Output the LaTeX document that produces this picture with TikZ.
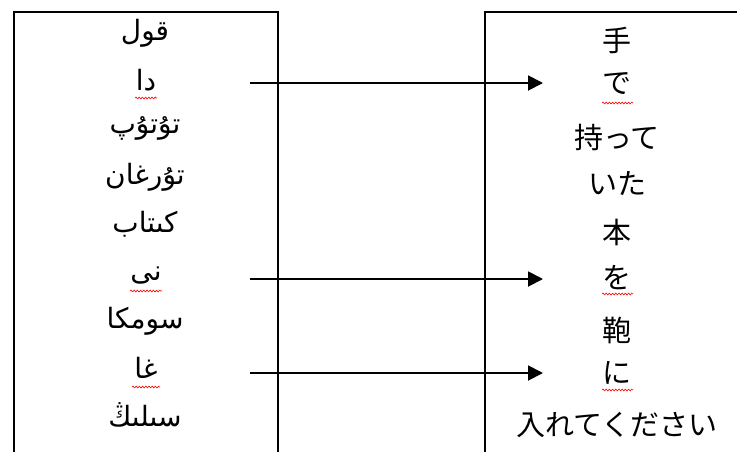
\documentclass[tikz,border=0pt]{standalone}
\usepackage{fontspec}
\usetikzlibrary{arrows.meta,decorations.pathmorphing}
\TeXXeTstate=1
\newfontfamily\arabicfont[Script=Arabic]{DejaVu Sans}
\newfontfamily\jpfont{Noto Sans CJK JP}
\begin{document}
\begin{tikzpicture}[x=1pt,y=-1pt,
  frame/.style={line width=2pt,line cap=rect},
  ug/.style={inner sep=0pt,font=\arabicfont\fontsize{28}{32}\selectfont},
  jp/.style={inner sep=0pt,font=\jpfont\fontsize{29}{32}\selectfont},
  link/.style={line width=1.9pt,-{Triangle[length=15pt,width=15pt]}},
  squig/.style={red,line width=0.6pt,decorate,decoration={snake,segment length=3.2pt,amplitude=0.9pt}}]
\useasboundingbox (0,0) rectangle (737,451);
% boxes
\draw[frame] (14,452) -- (14,12) -- (278,12) -- (278,452);
\draw[frame] (485,452) -- (485,12) -- (738,12);
% Uyghur column
\node[ug] (u1) at (145,33) {\beginR قول\endR};
\node[ug] (u2) at (146,80) {\beginR دا\endR};
\node[ug] (u3) at (145,128) {\beginR تۇتۇپ\endR};
\node[ug] (u4) at (145,177) {\beginR تۇرغان\endR};
\node[ug] (u5) at (145,224) {\beginR كىتاب\endR};
\node[ug] (u6) at (146,276) {\beginR نى\endR};
\node[ug] (u7) at (145,321) {\beginR سومكا\endR};
\node[ug] (u8) at (146,368) {\beginR غا\endR};
\node[ug] (u9) at (145,415) {\beginR سىلىڭ\endR};
% Japanese column
\node[jp] (j1) at (617,40) {手};
\node[jp] (j2) at (617,84) {で};
\node[jp] (j3) at (617,137) {持って};
\node[jp] (j4) at (617,183) {いた};
\node[jp] (j5) at (617,232) {本};
\node[jp] (j6) at (617,278) {を};
\node[jp] (j7) at (617,330) {鞄};
\node[jp] (j8) at (617,373) {に};
\node[jp] (j9) at (617,425) {入れてください};
% arrows
\coordinate (a1) at (250,83);  \coordinate (b1) at (543,83);
\coordinate (a2) at (250,279); \coordinate (b2) at (543,279);
\coordinate (a3) at (250,373); \coordinate (b3) at (543,373);
\draw[link] (a1) -- (b1);
\draw[link] (a2) -- (b2);
\draw[link] (a3) -- (b3);
% spell-check squiggles
\draw[squig] (135,98) -- (157,98);
\draw[squig] (130,291) -- (162,291);
\draw[squig] (132,387) -- (160,387);
\draw[squig] (602,103) -- (633,103);
\draw[squig] (602,294) -- (633,294);
\draw[squig] (602,390) -- (633,390);
\end{tikzpicture}
\end{document}
